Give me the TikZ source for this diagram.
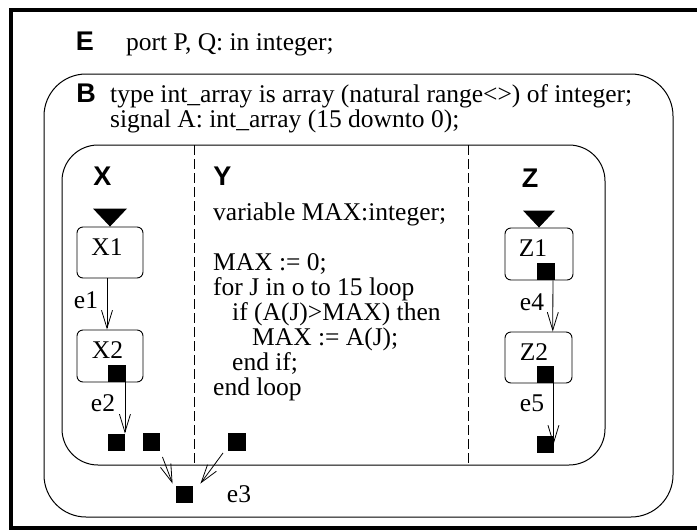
\documentclass[tikz,border=0pt]{standalone}
\usepackage{fontspec}
\setmainfont{Liberation Serif}
\newfontfamily\hvfont{Liberation Sans}
\usetikzlibrary{arrows.meta,calc}
\begin{document}
\begin{tikzpicture}[x=1pt,y=-1pt,
  txt/.style={font=\fontsize{25.5}{26}\selectfont, inner sep=0pt},
  lbl/.style={font=\hvfont\bfseries\fontsize{27}{27}\selectfont, inner sep=0pt},
  statebox/.style={draw, line width=0.9pt, rounded corners=6pt, minimum width=66pt, minimum height=51pt, inner sep=0pt},
  sq/.style={fill=black, minimum size=17.5pt, inner sep=0pt},
  arr/.style={line width=0.8pt, -{Straight Barb[length=18pt,width=11pt]}},
  divider/.style={line width=0.8pt, dash pattern=on 10pt off 4pt},
  frame/.style={line width=1pt},
]
\useasboundingbox (0,0) rectangle (697,531);
% outer frame (right edge lies outside the picture)
\draw[line width=3.8pt] (705,10) -- (11,10) -- (11,528) -- (705,528);
% block B and inner block
\draw[frame, rounded corners=42pt] (44,74) rectangle (673,517);
\draw[frame, rounded corners=36pt] (62,145) rectangle (605,465);
\draw[divider] (194,145) -- (194,465);
\draw[divider] (468,145) -- (468,465);

% header texts
\node[lbl, anchor=base] (E) at (85,50) {E};
\node[txt, anchor=base west] (Edecl) at (126,50) {port P, Q: in integer;};
\node[lbl, anchor=base] (B) at (86,102) {B};
\node[txt, anchor=base west] (Bdecl1) at (110,102) {\makebox[522pt][s]{type int\_array is array (natural range<>) of integer;}};
\node[txt, anchor=base west] (Bdecl2) at (110,127) {signal A: int\_array (15 downto 0);};

% column labels
\node[lbl, anchor=base] (X) at (102.5,185) {X};
\node[lbl, anchor=base] (Y) at (222.5,185) {Y};
\node[lbl, anchor=base] (Z) at (530,187) {Z};

% Y code
\node[txt, anchor=base west] (y1) at (213,220) {variable MAX:integer;};
\node[txt, anchor=base west] (y2) at (213,270) {MAX := 0;};
\node[txt, anchor=base west] (y3) at (213,295) {for J in o to 15 loop};
\node[txt, anchor=base west] (y4) at (232,320) {if (A(J)>MAX) then};
\node[txt, anchor=base west] (y5) at (252,345) {MAX := A(J);};
\node[txt, anchor=base west] (y6) at (232,370) {end if;};
\node[txt, anchor=base west] (y7) at (213,395) {end loop};

% state boxes
\node[statebox] (X1) at (110,252.5) {};
\node[statebox, minimum height=52pt] (X2) at (110,356) {};
\node[statebox, minimum width=68pt, minimum height=52pt] (Z1) at (539,254) {};
\node[statebox, minimum width=67pt] (Z2) at (538.5,357.5) {};
\node[txt, anchor=base] (X1t) at (107,255) {X1};
\node[txt, anchor=base] (X2t) at (107.5,358) {X2};
\node[txt, anchor=base] (Z1t) at (533,256) {Z1};
\node[txt, anchor=base] (Z2t) at (534,360) {Z2};

% default entry triangles
\fill ($(X1.north)+(-17,-18)$) -- ($(X1.north)+(17,-18)$) -- (X1.north) -- cycle;
\fill ($(Z1.north)+(-16,-17)$) -- ($(Z1.north)+(16,-17)$) -- (Z1.north) -- cycle;

% ports / squares
\node[sq, anchor=south] (X2s) at ([xshift=7pt]X2.south) {};
\node[sq, anchor=south] (Z1s) at ([xshift=7pt]Z1.south) {};
\node[sq, anchor=south] (Z2s) at ([xshift=7pt]Z2.south) {};
\node[sq] (e2s) at (116.5,442.5) {};
\node[sq] (ls) at (151.5,442) {};
\node[sq] (rs) at (237,442) {};
\node[sq] (e3s) at (184.5,494.5) {};
\node[sq] (e5s) at (545.5,444.5) {};

% transitions
\draw[arr] ([xshift=-3pt]X1.south) -- ([xshift=-3pt]X2.north);
\draw[arr] ([xshift=-1pt]X2s.south east) -- ([xshift=-0.5pt]e2s.north east);
\draw[arr] ([xshift=-2pt]Z1s.south east) -- ([xshift=14.25pt]Z2.north);
\draw[arr] ([xshift=-1pt]Z2s.south east) -- ([xshift=-1pt,yshift=-9pt]e5s.north east);
\draw[arr] ([xshift=2pt,yshift=-6pt]ls.south east) -- ([xshift=-3pt,yshift=2pt]e3s.north west);
\draw[arr] ([xshift=-5pt,yshift=-2pt]rs.south west) -- ([xshift=7pt,yshift=2pt]e3s.north east);

% transition labels
\node[txt] (e1) at (86,300) {e1};
\node[txt] (e2) at (103,403) {e2};
\node[txt] (e3) at (239,494) {e3};
\node[txt] (e4) at (532,302) {e4};
\node[txt] (e5) at (532,403) {e5};
\end{tikzpicture}
\end{document}
